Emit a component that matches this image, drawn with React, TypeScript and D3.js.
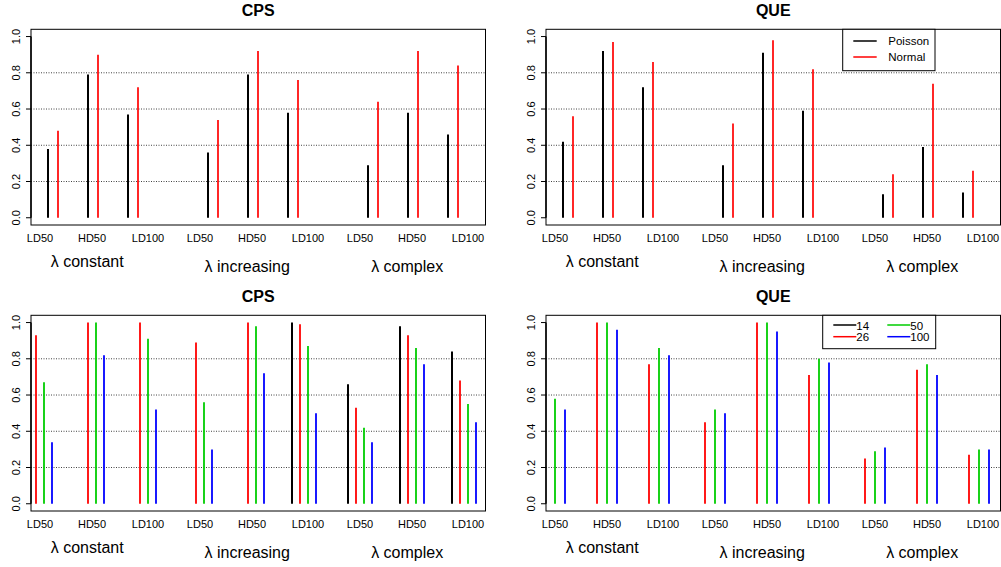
import React from 'react';
import * as d3 from 'd3';

// ---- data ----
const scenarios = ['λ constant', 'λ increasing', 'λ complex'];
const doses = ['LD50', 'HD50', 'LD100'];
const yTicks = [0, 0.2, 0.4, 0.6, 0.8, 1.0];
const gridValues = [0.2, 0.4, 0.6, 0.8];

// Top row: Poisson vs Normal
const distLabels = ['Poisson', 'Normal'];
const cpsPoisson = [0.38, 0.79, 0.57, 0.36, 0.79, 0.58, 0.29, 0.58, 0.46];
const cpsNormal = [0.48, 0.90, 0.72, 0.54, 0.92, 0.76, 0.64, 0.92, 0.84];
const quePoisson = [0.42, 0.92, 0.72, 0.29, 0.91, 0.59, 0.13, 0.39, 0.14];
const queNormal = [0.56, 0.97, 0.86, 0.52, 0.98, 0.82, 0.24, 0.74, 0.26];

// Bottom row: sample sizes
const sizeLabels = ['14', '26', '50', '100'];
const cps14 = [0, 0, 0, 0, 0, 1.00, 0.66, 0.98, 0.84];
const cps26 = [0.93, 1.00, 1.00, 0.89, 1.00, 0.99, 0.53, 0.93, 0.68];
const cps50 = [0.67, 1.00, 0.91, 0.56, 0.98, 0.87, 0.42, 0.86, 0.55];
const cps100 = [0.34, 0.82, 0.52, 0.30, 0.72, 0.50, 0.34, 0.77, 0.45];
const que14 = [0, 0, 0, 0, 0, 0, 0, 0, 0];
const que26 = [0, 1.00, 0.77, 0.45, 1.00, 0.71, 0.25, 0.74, 0.27];
const que50 = [0.58, 1.00, 0.86, 0.52, 1.00, 0.80, 0.29, 0.77, 0.30];
const que100 = [0.52, 0.96, 0.82, 0.50, 0.95, 0.78, 0.31, 0.71, 0.30];

// ---- styling / layout ----
const FONT = 'Liberation Sans, Arial, Helvetica, sans-serif';
const RED = '#FF0000';
const GREEN = '#00CD00';
const BLUE = '#0000FF';
const BLACK = '#000000';

const BOX = { left: 31, right: 485.5, top: 29.3, bottom: 225 };
const groupCenterU = [0, 3.25, 6.5];
const labelU = [0, 3.25, 6.75];

type Series = { values: number[]; color: string; width: number };
type Legend = { x0: number; x1: number; y0: number; y1: number; cols: number; items: { label: string; color: string }[] };

function Panel({ dx, dy, title, series, layout, legend }: {
  dx: number; dy: number; title: string; series: Series[]; layout: 'pair' | 'quad' | 'quadWide'; legend?: Legend;
}) {
  const x = d3.scaleLinear().domain([-0.5625, 27.84375]).range([BOX.left, BOX.right]);
  const y = d3.scaleLinear().domain([-0.04, 1.04]).range([BOX.bottom, BOX.top]);

  const barU = (i: number, s: number) => {
    const c = Math.floor(i / 3);
    const w = i % 3;
    if (layout === 'pair') return 10 * c + 2.5 * w + 0.5 + s * 0.625;
    const center = 10 * c + groupCenterU[w];
    if (layout === 'quad') return center + (s - 1.5) * 0.5;
    return center + (s - 2) * 0.625;
  };

  return (
    <g transform={`translate(${dx},${dy})`}>
      <text x={(BOX.left + BOX.right) / 2} y={15.5} textAnchor="middle" fontWeight="bold" fontSize={16} fontFamily={FONT}>{title}</text>
      {gridValues.map(v => (
        <line key={v} x1={BOX.left} x2={BOX.right} y1={y(v)} y2={y(v)} stroke="#444" strokeWidth={1} strokeDasharray="1,1.5" />
      ))}
      {series.map((s, si) =>
        s.values.map((v, i) => v > 0 ? (
          <line key={`${si}-${i}`} x1={x(barU(i, si))} x2={x(barU(i, si))} y1={y(0)} y2={y(v)} stroke={s.color} strokeWidth={s.width} />
        ) : null)
      )}
      <rect x={BOX.left} y={BOX.top} width={BOX.right - BOX.left} height={BOX.bottom - BOX.top} fill="none" stroke="#000" strokeWidth={1} />
      <line x1={BOX.left} x2={BOX.left} y1={y(0)} y2={y(1)} stroke="#000" strokeWidth={1.5} />
      {yTicks.map(t => (
        <g key={t}>
          <line x1={BOX.left - 5} x2={BOX.left} y1={y(t)} y2={y(t)} stroke="#000" strokeWidth={1} />
          <text transform={`translate(20,${y(t)}) rotate(-90)`} textAnchor="middle" fontSize={11} fontFamily={FONT}>{t.toFixed(1)}</text>
        </g>
      ))}
      {scenarios.map((sc, c) => doses.map((d, w) => (
        <text key={`${c}-${w}`} x={x(10 * c + labelU[w])} y={241.5} textAnchor="middle" fontSize={11} fontFamily={FONT}>{d}</text>
      )))}
      {scenarios.map((sc, c) => (
        <text key={sc} x={x(10 * c + 2.95)} y={c === 0 ? 266.7 : 271.7} textAnchor="middle" fontSize={16} fontFamily={FONT}>{sc}</text>
      ))}
      {legend && (
        <g>
          <rect x={legend.x0} y={legend.y0} width={legend.x1 - legend.x0} height={legend.y1 - legend.y0} fill="#fff" stroke="#000" strokeWidth={1} />
          {legend.items.map((it, k) => {
            const rows = Math.ceil(legend.items.length / legend.cols);
            const col = Math.floor(k / rows);
            const row = k % rows;
            if (legend.cols === 1) {
              const ly = legend.y0 + 11.7 + row * 16;
              return (
                <g key={it.label}>
                  <line x1={legend.x0 + 10.6} x2={legend.x0 + 34} y1={ly} y2={ly} stroke={it.color} strokeWidth={1.5} />
                  <text x={legend.x0 + 45.6} y={ly} dominantBaseline="central" fontSize={11.5} fontFamily={FONT}>{it.label}</text>
                </g>
              );
            }
            const ly = legend.y0 + 9.7 + row * 11.7;
            const lx = legend.x0 + 10.6 + col * 54;
            return (
              <g key={it.label}>
                <line x1={lx} x2={lx + 23} y1={ly} y2={ly} stroke={it.color} strokeWidth={1.5} />
                <text x={lx + 23} y={ly + 0.5} dominantBaseline="central" fontSize={11.5} fontFamily={FONT}>{it.label}</text>
              </g>
            );
          })}
        </g>
      )}
    </g>
  );
}

const distColors = [BLACK, RED];
const sizeColors = [BLACK, RED, GREEN, BLUE];

export default function App() {
  const topLegend: Legend = {
    x0: 327.7, x1: 420, y0: BOX.top, y1: 70.7, cols: 1,
    items: distLabels.map((l, i) => ({ label: l, color: distColors[i] })),
  };
  const botLegend: Legend = {
    x0: 307.7, x1: 420.7, y0: BOX.top, y1: 62.7, cols: 2,
    items: sizeLabels.map((l, i) => ({ label: l, color: sizeColors[i] })),
  };
  return (
    <svg width={1001} height={567} style={{ position: 'absolute', left: 0, top: 0, background: '#fff' }}>
      <rect x={0} y={0} width={1001} height={567} fill="#fff" />
      <Panel dx={0} dy={0} title="CPS" layout="pair"
        series={[{ values: cpsPoisson, color: BLACK, width: 2 }, { values: cpsNormal, color: RED, width: 1.7 }]} />
      <Panel dx={515} dy={0} title="QUE" layout="pair"
        series={[{ values: quePoisson, color: BLACK, width: 2 }, { values: queNormal, color: RED, width: 1.7 }]}
        legend={topLegend} />
      <Panel dx={0} dy={286} title="CPS" layout="quad"
        series={[cps14, cps26, cps50, cps100].map((v, i) => ({ values: v, color: sizeColors[i], width: i === 0 ? 2 : 1.8 }))} />
      <Panel dx={515} dy={286} title="QUE" layout="quadWide"
        series={[que14, que26, que50, que100].map((v, i) => ({ values: v, color: sizeColors[i], width: i === 0 ? 2 : 1.8 }))}
        legend={botLegend} />
    </svg>
  );
}
